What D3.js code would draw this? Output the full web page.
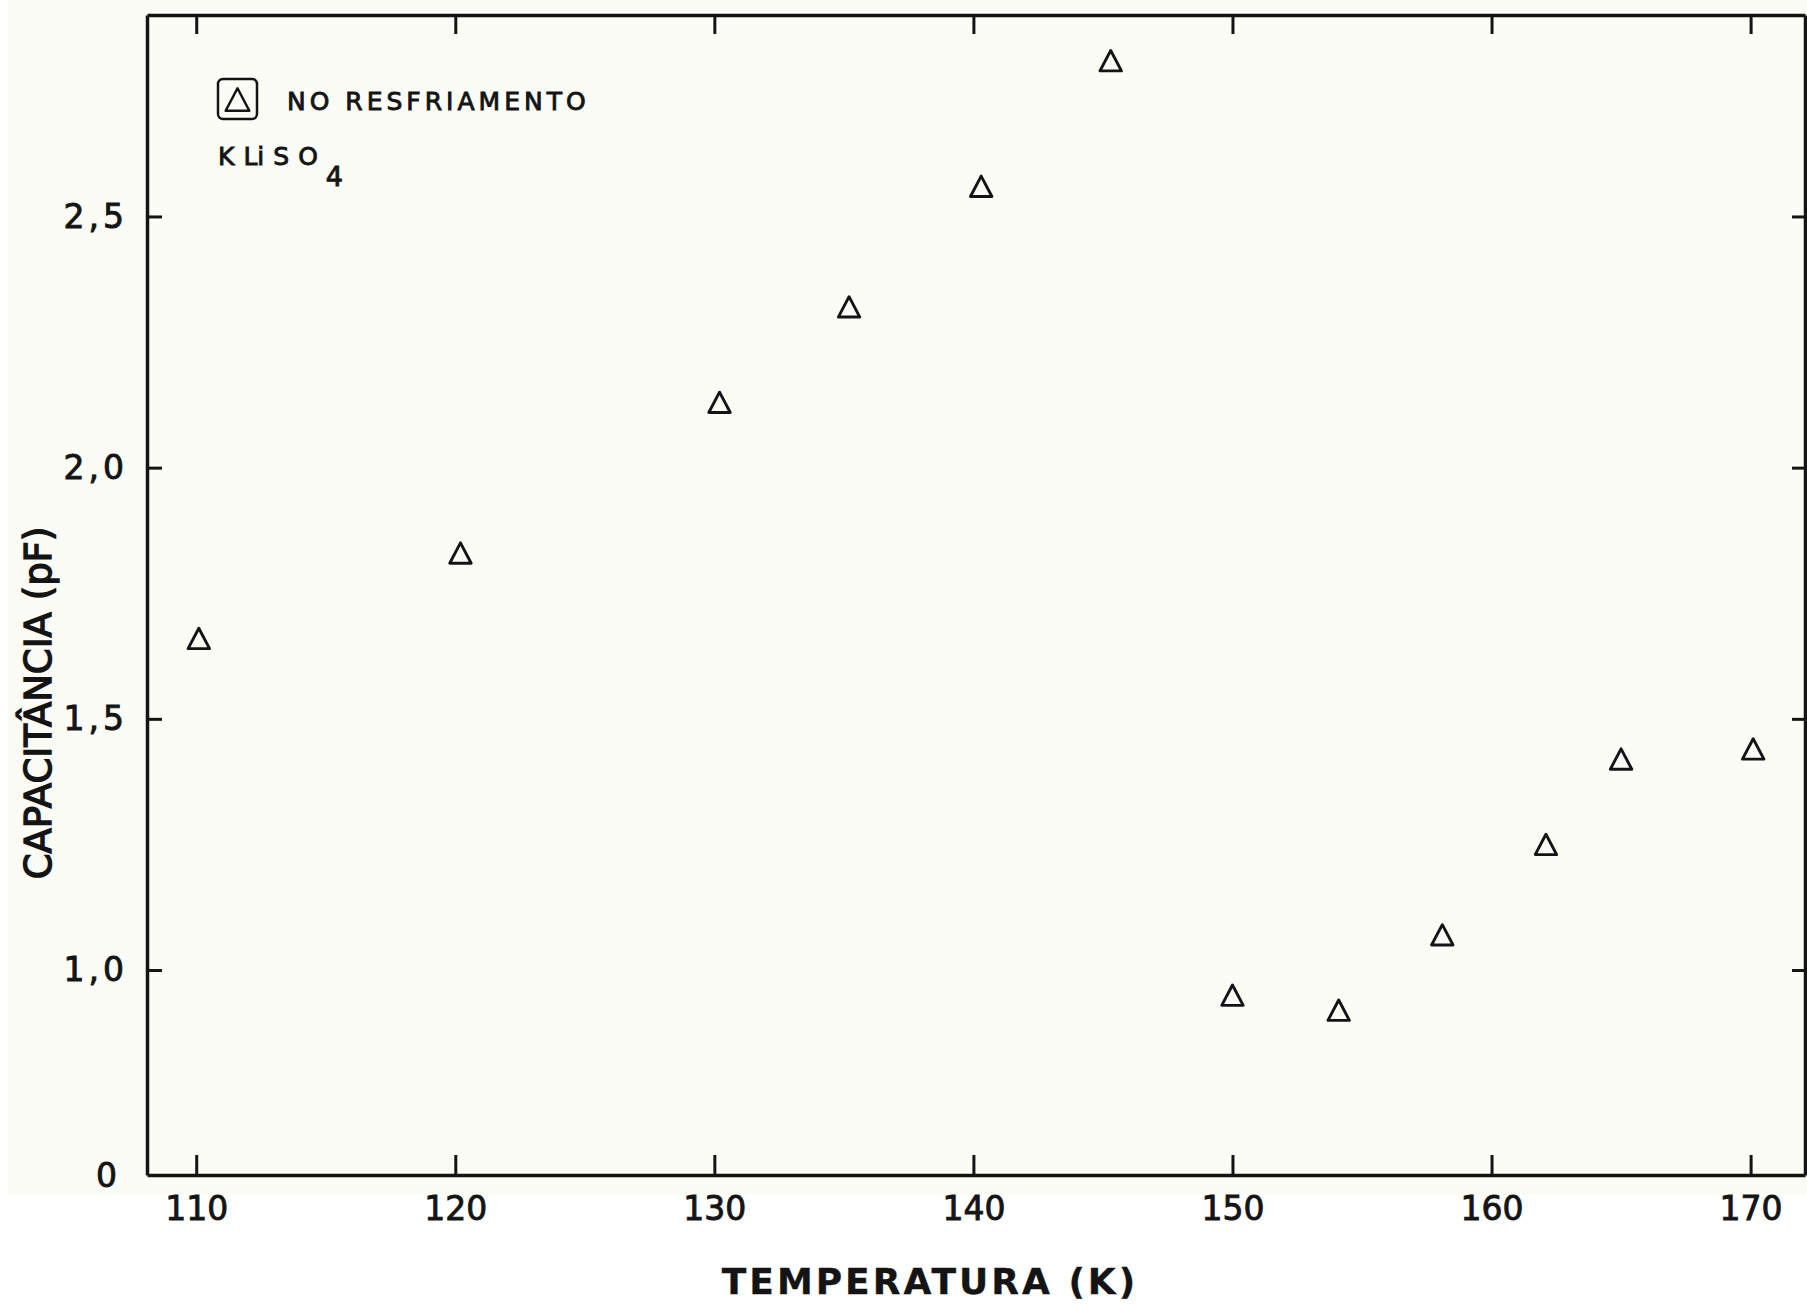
<!DOCTYPE html>
<html>
<head>
<meta charset="utf-8">
<script src="https://cdn.jsdelivr.net/npm/d3@7"></script>
<style>
	body { margin: 0; background: #ffffff; }
	text { font-family: "DejaVu Sans", sans-serif; fill: #141414; stroke: #141414; stroke-width: 0.9; }
</style>
</head>
<body>
<div id="vis-container"></div>
<script>
// data
var temperatures = [110.1, 120.2, 130.2, 135.2, 140.3, 145.3, 150.0, 154.1, 158.1, 162.1, 165.0, 170.1];
var capacitances = [1.66, 1.83, 2.13, 2.32, 2.56, 2.81, 0.95, 0.92, 1.07, 1.25, 1.42, 1.44];

// ticks
var xTickValues = [110, 120, 130, 140, 150, 160, 170];
var xTickLabels = ["110", "120", "130", "140", "150", "160", "170"];
var yTickValues = [1.0, 1.5, 2.0, 2.5];
var yTickLabels = ["1,0", "1,5", "2,0", "2,5"];
var yBreakLabel = "0";

// texts
var xTitle = "TEMPERATURA (K)";
var yTitle = "CAPACITÂNCIA (pF)";
var legendLabel = "NO RESFRIAMENTO";
var sampleParts = ["K", "Li", "S", "O"];
var sampleSub = "4";

// svg container
var width = 1807;
var height = 1304;

// plot frame
var plotLeft = 147;
var plotRight = 1805;
var plotTop = 15;
var plotBottom = 1175;

var ink = "#141414";

var svg = d3.select("#vis-container")
	.append("svg")
	.attr("width", width)
	.attr("height", height);

// scanned paper tint
svg.append("rect")
	.attr("x", 8)
	.attr("y", 0)
	.attr("width", width - 8)
	.attr("height", 1195)
	.attr("fill", "#fcfcf6");

var x = d3.scaleLinear().domain([108.1, 172.1]).range([plotLeft, plotRight]);
var y = d3.scaleLinear().domain([0.592, 2.901]).range([plotBottom, plotTop]);

// rounded triangle used as marker
var triangle = {
	draw: function (context, size) {
		var w = Math.sqrt(size) / 2;
		var h = w * 0.95;
		context.moveTo(0, -h);
		context.lineTo(w, h);
		context.lineTo(-w, h);
		context.closePath();
	}
};

// axes, all ticks pointing into the plot
var bottomAxis = d3.axisBottom(x)
	.tickValues(xTickValues)
	.tickFormat(function (d, i) { return xTickLabels[i]; })
	.tickSizeInner(-20)
	.tickSizeOuter(0)
	.tickPadding(22);

var topAxis = d3.axisTop(x)
	.tickValues(xTickValues)
	.tickFormat("")
	.tickSizeInner(-19)
	.tickSizeOuter(0);

var leftAxis = d3.axisLeft(y)
	.tickValues(yTickValues)
	.tickFormat(function (d, i) { return yTickLabels[i]; })
	.tickSizeInner(-15)
	.tickSizeOuter(0)
	.tickPadding(19);

var rightAxis = d3.axisRight(y)
	.tickValues(yTickValues)
	.tickFormat("")
	.tickSizeInner(-13)
	.tickSizeOuter(0);

var gBottom = svg.append("g")
	.attr("transform", "translate(0," + plotBottom + ")")
	.call(bottomAxis);

var gTop = svg.append("g")
	.attr("transform", "translate(0," + plotTop + ")")
	.call(topAxis);

var gLeft = svg.append("g")
	.attr("transform", "translate(" + plotLeft + ",0)")
	.call(leftAxis);

var gRight = svg.append("g")
	.attr("transform", "translate(" + plotRight + ",0)")
	.call(rightAxis);

[gBottom, gTop, gLeft, gRight].forEach(function (g) {
	g.select(".domain").attr("stroke", ink).attr("stroke-width", 3.5);
	g.selectAll(".tick line").attr("stroke", ink).attr("stroke-width", 3);
});

gBottom.selectAll(".tick text")
	.attr("font-size", 33)
	.attr("fill", ink)
	.attr("stroke", ink);

gLeft.selectAll(".tick text")
	.attr("font-size", 33)
	.attr("letter-spacing", 4)
	.attr("fill", ink)
	.attr("stroke", ink);

// the broken-axis "0" at the bottom corner
svg.append("text")
	.attr("x", plotLeft - 30)
	.attr("y", y(y.domain()[0]))
	.attr("dy", "0.36em")
	.attr("text-anchor", "end")
	.attr("font-size", 33)
	.text(yBreakLabel);

// axis titles
svg.append("text")
	.attr("x", 930)
	.attr("y", 1294)
	.attr("text-anchor", "middle")
	.attr("font-size", 36)
	.attr("font-weight", "bold")
	.attr("letter-spacing", 3)
	.style("stroke-width", 0.3)
	.text(xTitle);

svg.append("text")
	.attr("transform", "translate(51,703) rotate(-90)")
	.attr("text-anchor", "middle")
	.attr("font-size", 37)
	.style("stroke-width", 1.4)
	.text(yTitle);

// data points
svg.append("g")
	.selectAll("path")
	.data(temperatures)
	.enter()
	.append("path")
	.attr("transform", function (d, i) { return "translate(" + x(d) + "," + y(capacitances[i]) + ")"; })
	.attr("d", d3.symbol().type(triangle).size(460))
	.attr("fill", "none")
	.attr("stroke", ink)
	.attr("stroke-width", 2.9)
	.attr("stroke-linejoin", "round");

// legend
var legend = svg.append("g")
	.attr("transform", "translate(218,79)");

legend.append("rect")
	.attr("width", 39)
	.attr("height", 40)
	.attr("rx", 5)
	.attr("fill", "none")
	.attr("stroke", ink)
	.attr("stroke-width", 2.5);

legend.append("path")
	.attr("transform", "translate(19.5,20.5)")
	.attr("d", d3.symbol().type(triangle).size(560))
	.attr("fill", "none")
	.attr("stroke", ink)
	.attr("stroke-width", 2.5)
	.attr("stroke-linejoin", "round");

legend.append("text")
	.attr("x", 69)
	.attr("y", 31)
	.attr("font-size", 25)
	.attr("letter-spacing", 4)
	.text(legendLabel);

// sample name, letters spread as lettered on the drawing
var sample = legend.append("text")
	.attr("x", 0)
	.attr("y", 86)
	.attr("font-size", 25);

sample.selectAll("tspan")
	.data(sampleParts)
	.enter()
	.append("tspan")
	.attr("dx", function (d, i) { return i === 0 ? 0 : 9; })
	.text(function (d) { return d; });

sample.append("tspan")
	.attr("dx", 8)
	.attr("dy", 21)
	.attr("font-size", 27)
	.text(sampleSub);
</script>
</body>
</html>
